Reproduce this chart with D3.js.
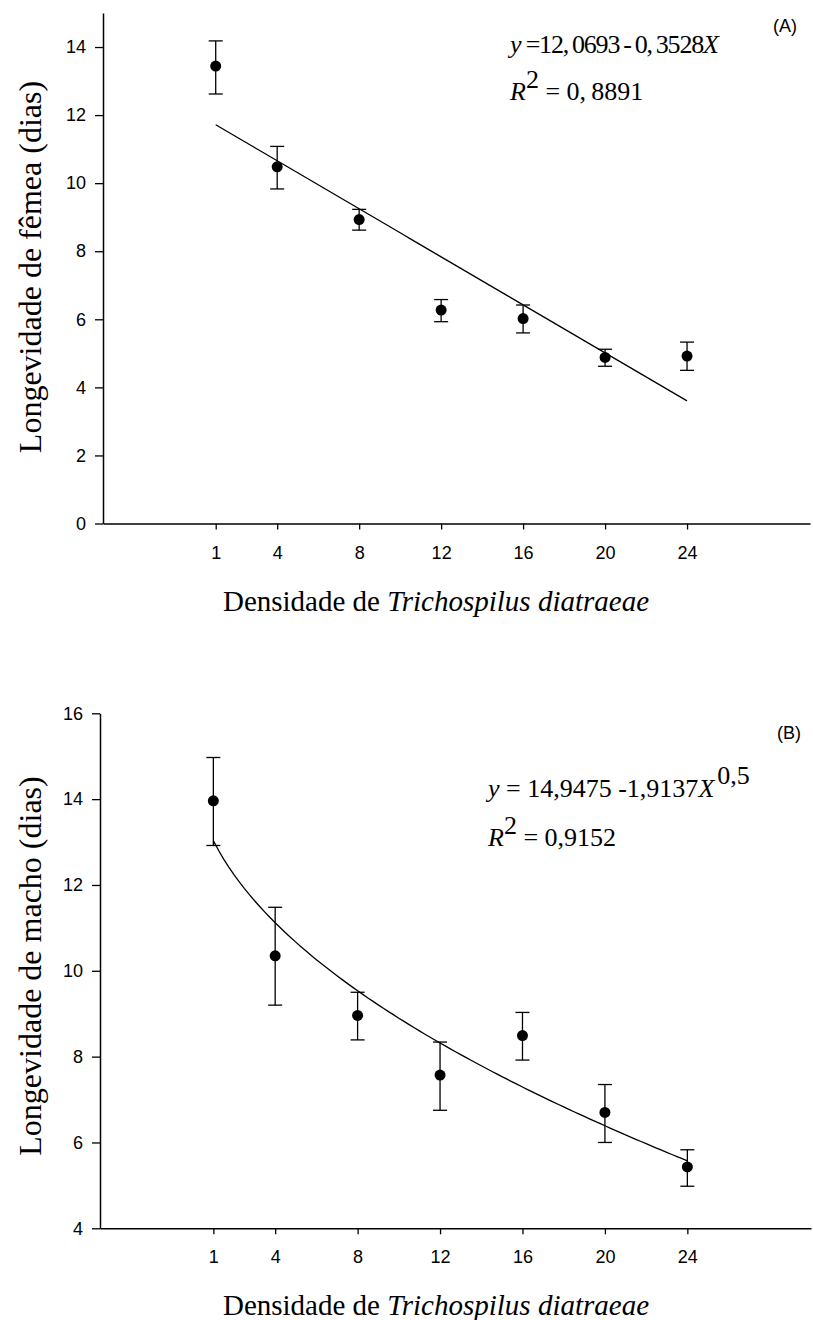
<!DOCTYPE html>
<html>
<head>
<meta charset="utf-8">
<script src="https://cdn.jsdelivr.net/npm/d3@7"></script>
<style>
  body { margin: 0; background: #fff; }
  svg { display: block; }
  .serif { font-family: "Liberation Serif", "Times New Roman", serif; fill: #000; }
</style>
</head>
<body>
<div id="chart"></div>
<script>
// densities of Trichospilus diatraeae
const densities = [1, 4, 8, 12, 16, 20, 24];

// (A) female longevity (days)
const femaleMean = [13.44, 10.48, 8.93, 6.27, 6.02, 4.88, 4.92];
const femaleLow  = [12.62, 9.83, 8.62, 5.93, 5.60, 4.62, 4.50];
const femaleHigh = [14.18, 11.08, 9.23, 6.58, 6.42, 5.12, 5.33];

// (B) male longevity (days)
const maleMean = [13.96, 10.35, 8.96, 7.57, 8.49, 6.70, 5.43];
const maleLow  = [12.92, 9.20, 8.39, 6.75, 7.92, 6.00, 4.98];
const maleHigh = [14.97, 11.48, 9.50, 8.34, 9.03, 7.35, 5.83];

// fitted models printed on the chart
const fitA = [12.0693, -0.3528];        // y = a + b*X
const fitB = [14.9475, -1.9137, 0.5];   // y = a + b*X^c

const yTicksA = [0, 2, 4, 6, 8, 10, 12, 14];
const yTicksB = [4, 6, 8, 10, 12, 14, 16];

const W = 813, H = 1320;
const svg = d3.select('#chart').append('svg')
    .attr('width', W)
    .attr('height', H);

function styleAxis(a) {
    a.attr('font-size', null).attr('font-family', null);
    a.select('.domain').attr('stroke', '#000').attr('stroke-width', 1.5);
    a.selectAll('.tick line').attr('stroke', '#000').attr('stroke-width', 1.3);
    a.selectAll('.tick text')
        .style('font-family', '"Liberation Sans", Arial, sans-serif')
        .style('font-size', '18px')
        .style('fill', '#000');
}

function drawPanel(opt) {
    const g = svg.append('g');

    const x = d3.scaleLinear().domain([-4.5, 30]).range([opt.left, opt.right]);
    const y = d3.scaleLinear().domain(opt.yDomain).range([opt.bottom, opt.top]);

    // y axis
    const ya = g.append('g')
        .attr('transform', `translate(${opt.left},0)`)
        .call(d3.axisLeft(y).tickValues(opt.yTicks).tickSize(8).tickSizeOuter(0).tickPadding(9));
    styleAxis(ya);

    // x axis
    const xa = g.append('g')
        .attr('transform', `translate(0,${opt.bottom})`)
        .call(d3.axisBottom(x).tickValues(densities).tickSize(6).tickSizeOuter(0).tickPadding(opt.xPad));
    styleAxis(xa);

    // fitted line
    const xs = d3.range(1, 24.01, 0.25);
    g.append('path')
        .datum(xs)
        .attr('fill', 'none')
        .attr('stroke', '#000')
        .attr('stroke-width', 1.3)
        .attr('d', d3.line().x(d => x(d)).y(d => y(opt.fit(d))));

    const pts = densities.map((d, i) => ({ x: d, m: opt.mean[i], lo: opt.low[i], hi: opt.high[i] }));

    // error bars
    const eb = g.selectAll('.eb').data(pts).enter().append('g').attr('class', 'eb')
        .attr('stroke', '#000').attr('stroke-width', 1.3);
    eb.append('line')
        .attr('x1', d => x(d.x)).attr('x2', d => x(d.x))
        .attr('y1', d => y(d.lo)).attr('y2', d => y(d.hi));
    eb.append('line')
        .attr('x1', d => x(d.x) - 7).attr('x2', d => x(d.x) + 7)
        .attr('y1', d => y(d.hi)).attr('y2', d => y(d.hi));
    eb.append('line')
        .attr('x1', d => x(d.x) - 7).attr('x2', d => x(d.x) + 7)
        .attr('y1', d => y(d.lo)).attr('y2', d => y(d.lo));

    // means
    g.selectAll('.pt').data(pts).enter().append('circle')
        .attr('class', 'pt')
        .attr('cx', d => x(d.x))
        .attr('cy', d => y(d.m))
        .attr('r', 5.5)
        .attr('fill', '#000');

    // axis titles
    g.append('text')
        .attr('class', 'serif')
        .attr('transform', `translate(${opt.yTitleX},${opt.yTitleY}) rotate(-90)`)
        .attr('text-anchor', 'middle')
        .style('font-size', '32px')
        .text(opt.yTitle);

    const xt = g.append('text')
        .attr('class', 'serif')
        .attr('x', 436)
        .attr('y', opt.xTitleY)
        .attr('text-anchor', 'middle')
        .style('font-size', '29px');
    xt.append('tspan').text('Densidade de ');
    xt.append('tspan').style('font-style', 'italic').text('Trichospilus diatraeae');

    // panel letter
    g.append('text')
        .attr('x', opt.letterX)
        .attr('y', opt.letterY)
        .style('font-family', '"Liberation Sans", Arial, sans-serif')
        .style('font-size', '18px')
        .text(opt.letter);

    return g;
}

// ---- panel A
const gA = drawPanel({
    left: 103, right: 810, top: 13, bottom: 523.5,
    yDomain: [0, 15], yTicks: yTicksA, xPad: 17,
    mean: femaleMean, low: femaleLow, high: femaleHigh,
    fit: X => fitA[0] + fitA[1] * X,
    yTitle: 'Longevidade de fêmea (dias)', yTitleX: 41, yTitleY: 267,
    xTitleY: 611,
    letter: '(A)', letterX: 773, letterY: 32
});

const eqA = gA.append('text').attr('class', 'serif').attr('x', 510).attr('y', 53)
    .style('font-size', '26px').style('letter-spacing', '-1.2px');
eqA.append('tspan').style('font-style', 'italic').text('y');
eqA.append('tspan').text(' =12,\u20090693\u2009-\u20090,\u20093528');
eqA.append('tspan').style('font-style', 'italic').text('X');

const r2A = gA.append('text').attr('class', 'serif').attr('x', 510).attr('y', 100).style('font-size', '26px');
r2A.append('tspan').style('font-style', 'italic').text('R');
r2A.append('tspan').attr('dy', -12).style('font-size', '26px').text('2');
r2A.append('tspan').attr('dy', 12).text(' = 0,\u20098891');

// ---- panel B
const gB = drawPanel({
    left: 100, right: 811, top: 713.3, bottom: 1228.3,
    yDomain: [4, 16], yTicks: yTicksB, xPad: 16,
    mean: maleMean, low: maleLow, high: maleHigh,
    fit: X => fitB[0] + fitB[1] * Math.pow(X, fitB[2]),
    yTitle: 'Longevidade de macho (dias)', yTitleX: 41, yTitleY: 966,
    xTitleY: 1315,
    letter: '(B)', letterX: 777, letterY: 739
});

const eqB = gB.append('text').attr('class', 'serif').attr('x', 488).attr('y', 797).style('font-size', '26px');
eqB.append('tspan').style('font-style', 'italic').text('y');
eqB.append('tspan').text(' =  14,9475 -1,9137');
eqB.append('tspan').style('font-style', 'italic').text('X');
eqB.append('tspan').attr('dy', -13).attr('dx', 3).text('0,5');

const r2B = gB.append('text').attr('class', 'serif').attr('x', 488).attr('y', 846).style('font-size', '26px');
r2B.append('tspan').style('font-style', 'italic').text('R');
r2B.append('tspan').attr('dy', -12).style('font-size', '26px').text('2');
r2B.append('tspan').attr('dy', 12).text(' =  0,9152');
</script>
</body>
</html>
